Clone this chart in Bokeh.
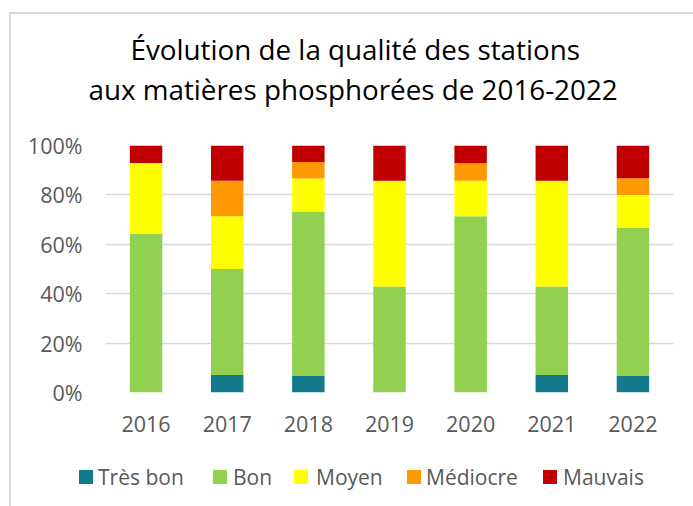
from bokeh.plotting import figure
from bokeh.layouts import column
from bokeh.models import (ColumnDataSource, Range1d, FactorRange, NumeralTickFormatter,
                          Title, Div)
from bokeh.embed import file_html
from bokeh.resources import INLINE

years = ["2016", "2017", "2018", "2019", "2020", "2021", "2022"]
tres_bon = [0.0, 7.1, 6.7, 0.0, 0.0, 7.1, 6.7]
bon = [64.3, 42.9, 66.6, 42.9, 71.4, 35.8, 60.0]
moyen = [28.6, 21.4, 13.3, 42.8, 14.3, 42.8, 13.3]
mediocre = [0.0, 14.3, 6.7, 0.0, 7.1, 0.0, 6.7]
mauvais = [7.1, 14.3, 6.7, 14.3, 7.2, 14.3, 13.3]

labels = ["Très bon", "Bon", "Moyen", "Médiocre", "Mauvais"]
colors = ["#127A8A", "#92D050", "#FFFF00", "#FF9900", "#C00000"]
keys = ["tres_bon", "bon", "moyen", "mediocre", "mauvais"]
title_lines = ["Évolution de la qualité des stations",
               "aux matières phosphorées de 2016-2022"]

source = ColumnDataSource(data=dict(
    years=years,
    tres_bon=[v / 100 for v in tres_bon],
    bon=[v / 100 for v in bon],
    moyen=[v / 100 for v in moyen],
    mediocre=[v / 100 for v in mediocre],
    mauvais=[v / 100 for v in mauvais],
))

FONT = "Open Sans"
GRAY = "#595959"
W = 682

# ---- main chart
p = figure(width=W, height=436, output_backend="svg", toolbar_location=None,
           x_range=FactorRange(*years, range_padding=0), y_range=Range1d(0, 1),
           min_border_left=94, min_border_right=20, min_border_top=131, min_border_bottom=58,
           title=title_lines[0])
p.outline_line_color = None
p.background_fill_color = "white"
p.border_fill_color = "white"

p.vbar_stack(keys, x="years", width=0.4, color=colors, source=source, line_color=None)

p.yaxis.formatter = NumeralTickFormatter(format="0%")
p.yaxis.ticker = [0, 0.2, 0.4, 0.6, 0.8, 1.0]
for ax in (p.xaxis[0], p.yaxis[0]):
    ax.axis_line_color = None
    ax.major_tick_line_color = None
    ax.minor_tick_line_color = None
    ax.major_tick_out = 0
    ax.major_tick_in = 0
    ax.major_label_text_font = FONT
    ax.major_label_text_font_size = "21.5px"
    ax.major_label_text_color = GRAY
p.yaxis.major_label_standoff = 23
p.xaxis.major_label_standoff = 23

p.xgrid.grid_line_color = None
p.ygrid.grid_line_color = "#d9d9d9"
p.ygrid.grid_line_width = 1.5

# ---- two-line title (spacer nearest the frame, then line 2, then line 1)
TS = "27.8px"
spacer = Title(text=" ", text_font=FONT, text_font_size="26px", standoff=0)
p.add_layout(spacer, "above")
t2 = Title(text=title_lines[1], align="left", offset=-17,
           text_font=FONT, text_font_size=TS, text_font_style="normal",
           text_color="#000000", standoff=0)
p.add_layout(t2, "above")
t1 = p.title
t1.align = "left"
t1.offset = 25
t1.text_font = FONT
t1.text_font_size = TS
t1.text_font_style = "normal"
t1.text_color = "#000000"
t1.standoff = 0

# ---- legend (HTML, below the chart)
sq_left = [68, 202, 283, 396, 532]
txt_left = [87, 222, 305, 415, 552]
parts = []
for lab, col, sx, tx in zip(labels, colors, sq_left, txt_left):
    parts.append(
        f'<div style="position:absolute;left:{sx}px;top:20px;width:14px;height:14px;'
        f'background:{col};"></div>'
        f'<div style="position:absolute;left:{tx}px;top:12px;height:30px;line-height:30px;'
        f'font-family:\'Open Sans\';font-size:21px;color:{GRAY};white-space:nowrap;">{lab}</div>')
legend_html = ('<div style="position:relative;width:682px;height:56px;margin:0;padding:0;">'
               + "".join(parts) + "</div>")
legend_div = Div(text=legend_html, width=W, height=56, margin=0,
                 styles={"padding": "0px", "margin": "0px"})

layout = column(p, legend_div, spacing=0,
                styles={"margin-left": "9px", "margin-top": "12px",
                        "border-left": "2px solid #d9d9d9",
                        "border-top": "2px solid #d9d9d9"})

open("out.html", "w").write(file_html(layout, INLINE))
